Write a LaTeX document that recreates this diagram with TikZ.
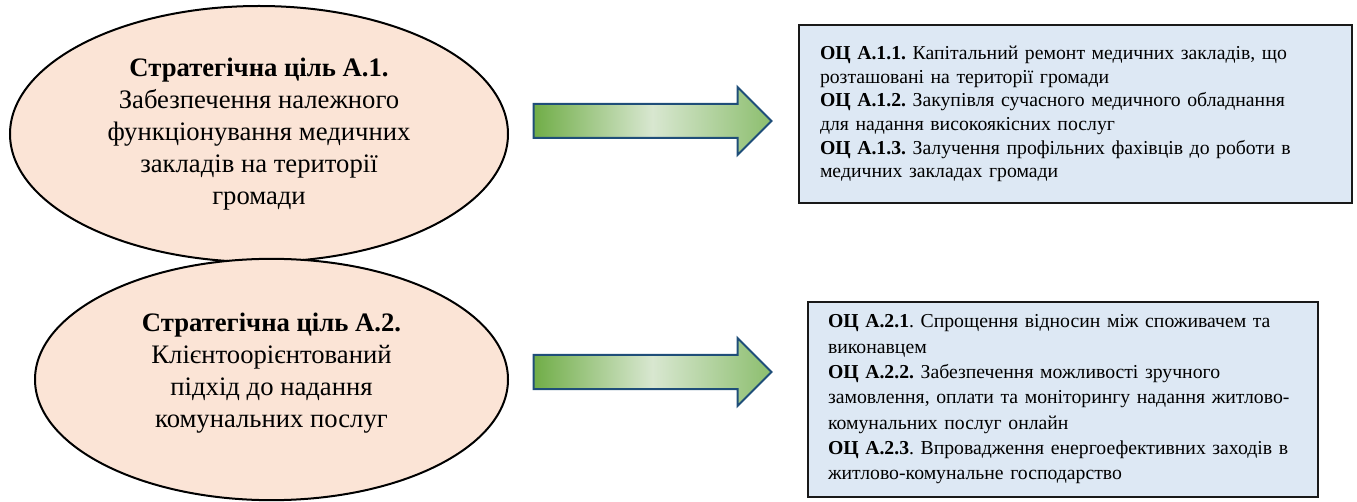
\documentclass[tikz,border=0pt]{standalone}
\usepackage{fontspec}
\setmainfont{Liberation Serif}
\usetikzlibrary{shapes.geometric,shapes.arrows}
\frenchspacing
\definecolor{goalfill}{RGB}{251,228,214}
\definecolor{taskfill}{RGB}{221,232,244}
\definecolor{arrowline}{RGB}{31,78,121}
\definecolor{arrowdark}{RGB}{112,173,71}
\definecolor{arrowlight}{RGB}{216,231,208}
\definecolor{arrowmid}{RGB}{140,190,110}
\tikzstyle{goal}=[ellipse,draw=black,line width=1.5pt,fill=goalfill,align=center,inner sep=0pt,font=\fontsize{20}{24}\selectfont]
\tikzstyle{task}=[rectangle,draw=black!90,line width=1.5pt,fill=taskfill,align=left,inner ysep=0pt,font=\fontsize{14.8}{17.7}\selectfont]
\tikzstyle{goalarrow}=[single arrow,draw=arrowline,line width=1.5pt,left color=arrowdark,right color=arrowmid,middle color=arrowlight,inner xsep=0pt,inner ysep=12pt,single arrow head extend=12.75pt,minimum height=178.5pt,minimum width=49.5pt]

\begin{document}
\begin{tikzpicture}[x=0.75pt,y=-0.75pt]
    \useasboundingbox (0,0) rectangle (1357,502);

    % Strategic goals
    \node [goal,minimum width=373.5pt,minimum height=192pt] (goal1) at (259,134)
    {\textbf{Стратегічна ціль А.1.}\\Забезпечення належного\\функціонування медичних\\закладів на території\\громади};
    \node [goal,minimum width=354.75pt,minimum height=181pt,text depth=14pt] (goal2) at (271.5,379.5)
    {\textbf{Стратегічна ціль А.2.}\\Клієнтоорієнтований\\підхід до надання\\комунальних послуг};

    % Block arrows between the goals and the tasks
    \node [goalarrow] (arr1) at (644,121) {};
    \node [goalarrow] (arr2) at (644,372) {};

    % Operational goals
    \node [task,inner xsep=15.75pt,text width=383.25pt,minimum height=133.5pt] (ops1) at (1075.5,114)
    {\textbf{ОЦ А.1.1.} Капітальний ремонт медичних закладів, що\\розташовані на території громади\\
    \textbf{ОЦ А.1.2.} Закупівля сучасного медичного обладнання\\для надання високоякісних послуг\\
    \textbf{ОЦ А.1.3.} Залучення профільних фахівців до роботи в\\медичних закладах громади};
    \node [task,inner xsep=15pt,text width=352.5pt,minimum height=146.25pt,font=\fontsize{14.8}{19}\selectfont] (ops2) at (1063,399.5)
    {\textbf{ОЦ А.2.1}. Спрощення відносин між споживачем та\\виконавцем\\
    \textbf{ОЦ А.2.2.} Забезпечення можливості зручного\\замовлення, оплати та моніторингу надання житлово-\\комунальних послуг онлайн\\
    \textbf{ОЦ А.2.3}. Впровадження енергоефективних заходів в\\житлово-комунальне господарство};
\end{tikzpicture}
\end{document}
